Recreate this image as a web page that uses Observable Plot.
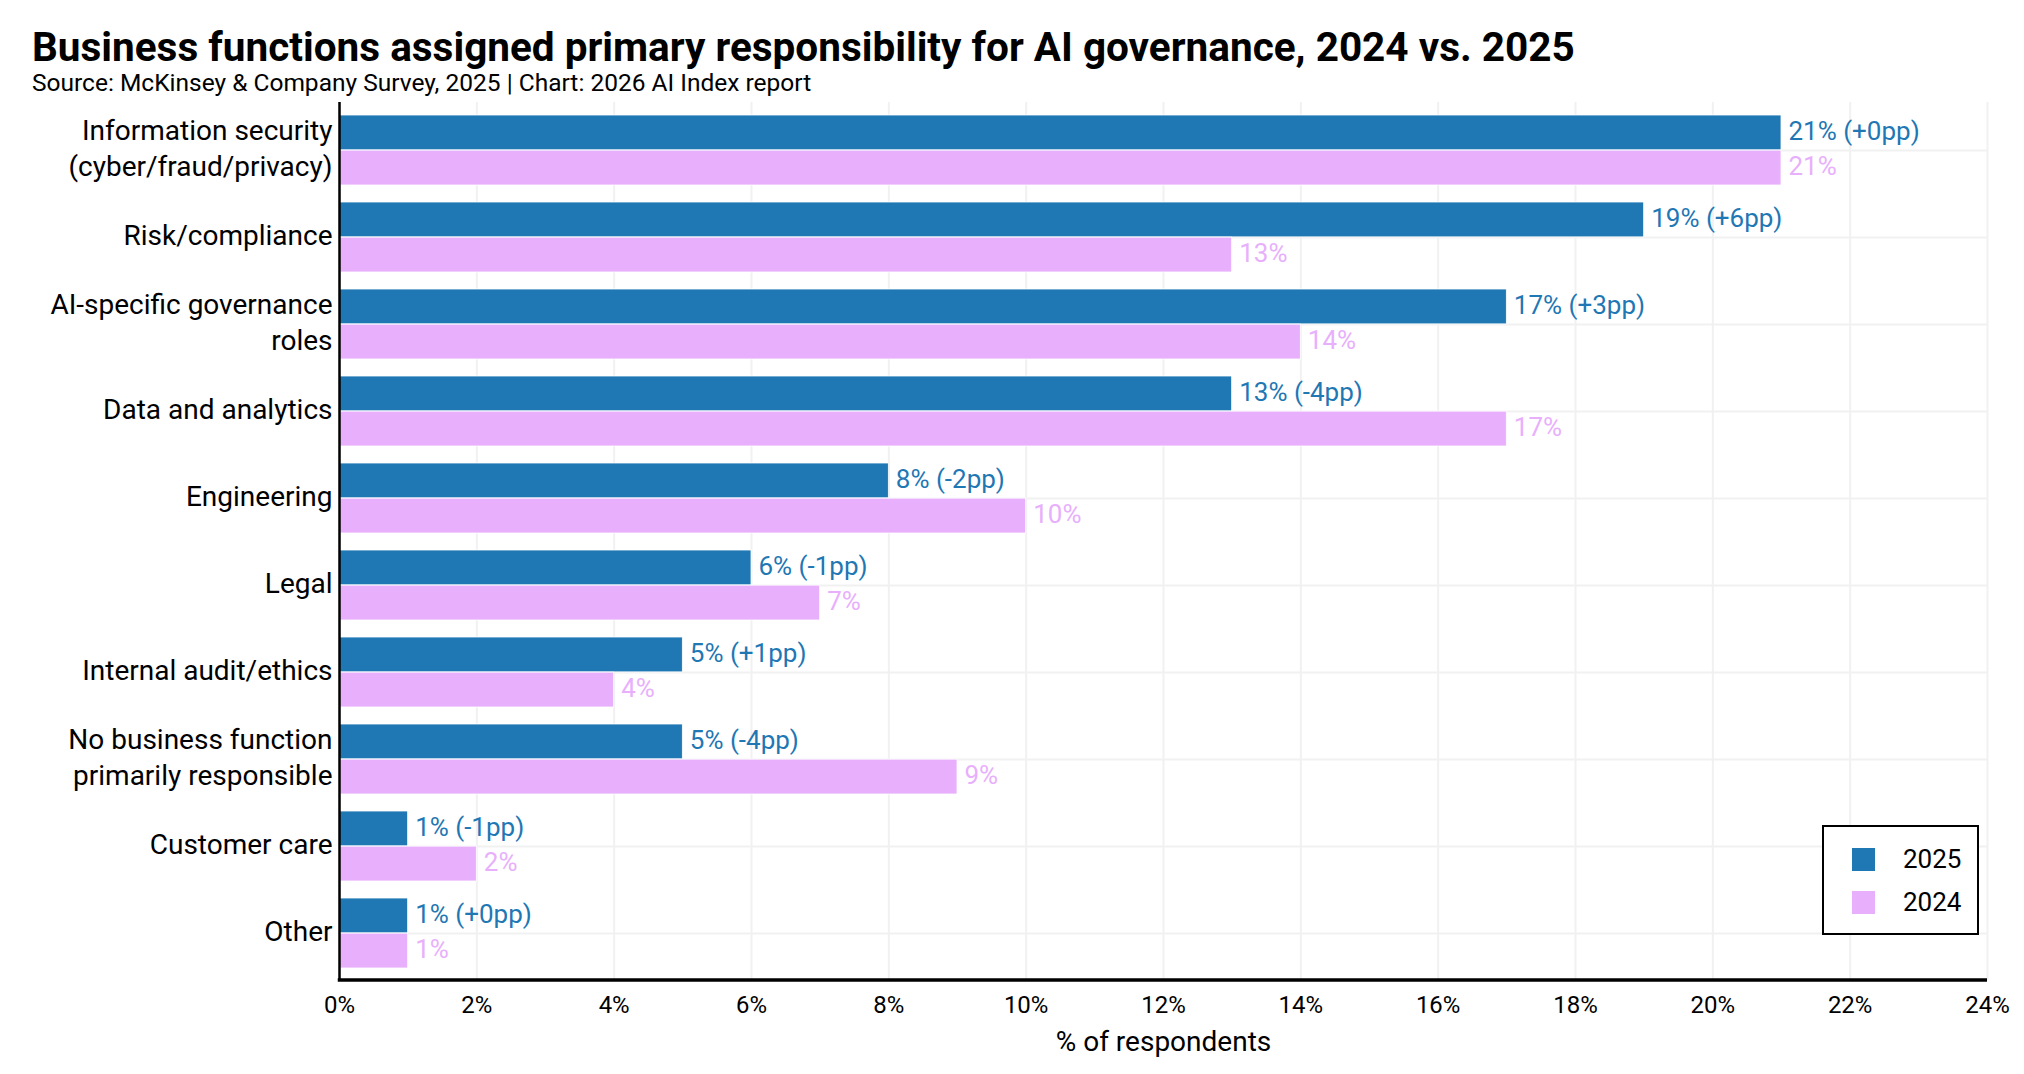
<!DOCTYPE html>
<html>
<head>
<meta charset="utf-8">
<script src="https://cdn.jsdelivr.net/npm/d3@7"></script>
<script src="https://cdn.jsdelivr.net/npm/@observablehq/plot@0.6"></script>
<style>
  html, body { margin: 0; padding: 0; background: #fff; }
  body { width: 2024px; height: 1074px; position: relative; font-family: Roboto, "Liberation Sans", sans-serif; color: #000; overflow: hidden; }
  #header { position: relative; height: 100px; }
  #title { position: absolute; left: 32px; top: 25px; font-size: 40.5px; line-height: 44px; font-weight: 700; white-space: nowrap; }
  #subtitle { position: absolute; left: 32px; top: 69px; font-size: 24.5px; line-height: 28px; white-space: nowrap; }
  #chart svg { display: block; }
  #legend { position: absolute; left: 1822px; top: 825px; width: 153px; height: 106px; border: 2.5px solid #000; background: #fff; }
  .item { position: absolute; left: 28px; display: flex; align-items: center; font-size: 26px; }
  .sw { width: 23px; height: 23px; margin-right: 28px; }
</style>
</head>
<body>
<div id="header">
  <div id="title">Business functions assigned primary responsibility for AI governance, 2024 vs. 2025</div>
  <div id="subtitle">Source: McKinsey &amp; Company Survey, 2025 | Chart: 2026 AI Index report</div>
</div>
<div id="chart"></div>
<div id="legend"></div>
<script>
const categories = [
  "Information security\n(cyber/fraud/privacy)",
  "Risk/compliance",
  "AI-specific governance\nroles",
  "Data and analytics",
  "Engineering",
  "Legal",
  "Internal audit/ethics",
  "No business function\nprimarily responsible",
  "Customer care",
  "Other"
];
const values2025 = [21, 19, 17, 13, 8, 6, 5, 5, 1, 1];
const values2024 = [21, 13, 14, 17, 10, 7, 4, 9, 2, 1];
const xTicks = [0, 2, 4, 6, 8, 10, 12, 14, 16, 18, 20, 22, 24];
const seriesNames = ["2025", "2024"];
const colors = {"2025": "#1f77b4", "2024": "#e8b0fc"};

const data = categories.map((c, i) => ({cat: c, v2025: values2025[i], v2024: values2024[i]}));

const W = 2024, H = 974, mL = 339, mR = 37, mT = 2, mB = 94;
const half = (H - mT - mB) / categories.length * 0.8 / 2;

const fmtDiff = d => { const v = d.v2025 - d.v2024; return (v >= 0 ? "+" : "") + v + "pp"; };

const bottomSpine = (index, scales, values, dims) => {
  const x = typeof scales.x === "function" ? scales.x : (v => dims.marginLeft + (v - xTicks[0]) / (xTicks[xTicks.length - 1] - xTicks[0]) * (dims.width - dims.marginLeft - dims.marginRight));
  const g = d3.create("svg:line")
    .attr("x1", x(xTicks[0]) - 1.25)
    .attr("x2", x(xTicks[xTicks.length - 1]))
    .attr("y1", dims.height - dims.marginBottom)
    .attr("y2", dims.height - dims.marginBottom)
    .attr("stroke", "#000")
    .attr("stroke-width", 3.5);
  return g.node();
};

const plot = Plot.plot({
  width: W,
  height: H,
  marginLeft: mL,
  marginRight: mR,
  marginTop: mT,
  marginBottom: mB,
  style: {fontFamily: "Roboto, 'Liberation Sans', sans-serif", fontSize: "24px", color: "#000", background: "transparent"},
  x: {domain: [xTicks[0], xTicks[xTicks.length - 1]]},
  y: {domain: categories, paddingInner: 0.2, paddingOuter: 0.1},
  marks: [
    Plot.gridX(xTicks, {stroke: "#f1f1f1", strokeOpacity: 1, strokeWidth: 2}),
    Plot.gridY({stroke: "#f1f1f1", strokeOpacity: 1, strokeWidth: 2}),
    Plot.barX(data, {x: "v2025", y: "cat", fill: colors["2025"], insetBottom: half, stroke: "#fff", strokeWidth: 0.8}),
    Plot.barX(data, {x: "v2024", y: "cat", fill: colors["2024"], insetTop: half, stroke: "#fff", strokeWidth: 0.8}),
    Plot.text(data, {x: "v2025", y: "cat", text: d => `${d.v2025}% (${fmtDiff(d)})`, dx: 7, dy: -half / 2 - 1, textAnchor: "start", fill: colors["2025"], fontSize: 26}),
    Plot.text(data, {x: "v2024", y: "cat", text: d => `${d.v2024}%`, dx: 7, dy: half / 2 - 1, textAnchor: "start", fill: colors["2024"], fontSize: 26}),
    Plot.axisY({tickSize: 0, tickPadding: 7, fontSize: 28, lineHeight: 1.3, dy: -4, label: null}),
    Plot.axisX({ticks: xTicks, tickFormat: d => d + "%", tickSize: 0, tickPadding: 15, fontSize: 24, label: null}),
    Plot.axisX({ticks: [], tickSize: 0, fontSize: 28, label: "% of respondents", labelAnchor: "center", labelOffset: 70, labelArrow: "none"}),
    Plot.ruleX([xTicks[0]], {stroke: "#000", strokeWidth: 2.5}),
    bottomSpine
  ]
});
document.getElementById("chart").appendChild(plot);

const legend = document.getElementById("legend");
seriesNames.forEach((s, i) => {
  const item = document.createElement("div");
  item.className = "item";
  item.style.top = (17 + i * 43) + "px";
  const sw = document.createElement("div");
  sw.className = "sw";
  sw.style.background = colors[s];
  const t = document.createElement("span");
  t.textContent = s;
  item.appendChild(sw);
  item.appendChild(t);
  legend.appendChild(item);
});
</script>
</body>
</html>
